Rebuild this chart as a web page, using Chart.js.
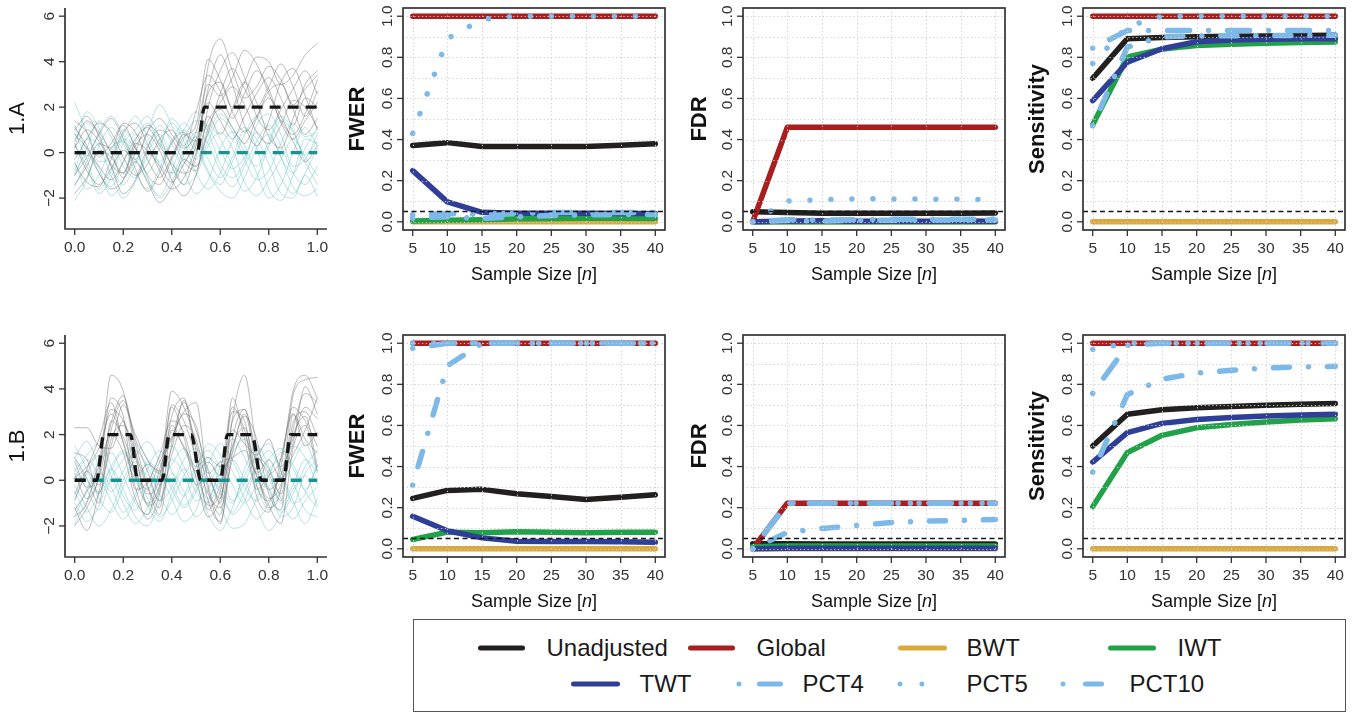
<!DOCTYPE html>
<html><head><meta charset="utf-8">
<script src="https://cdn.jsdelivr.net/npm/chart.js@4.4.1/dist/chart.umd.min.js"></script>
<style>
html,body{margin:0;padding:0;background:#fff;width:1356px;height:713px;overflow:hidden;font-family:"Liberation Sans",Arial,sans-serif;}
canvas{position:absolute;}
#legend{position:absolute;left:413px;top:619px;width:933px;height:93px;border:1.5px solid #555;box-sizing:border-box;}
#legend svg{position:absolute;left:-1.5px;top:-1.5px;}
.lt{position:absolute;font-size:24px;line-height:28px;color:#1a1a1a;white-space:nowrap;transform:translateY(-50%);}
</style></head><body>
<canvas id="c0"></canvas><canvas id="c1"></canvas><canvas id="c2"></canvas><canvas id="c3"></canvas>
<canvas id="c4"></canvas><canvas id="c5"></canvas><canvas id="c6"></canvas><canvas id="c7"></canvas>
<div id="legend"></div>
<script>
// ---------------- DATA ----------------
const N_VALUES = [5, 10, 15, 20, 25, 30, 35, 40];
const SERIES = ['Unadjusted', 'Global', 'BWT', 'IWT', 'TWT', 'PCT4', 'PCT5', 'PCT10'];
const N_TICKS = [5, 10, 15, 20, 25, 30, 35, 40];
const N_TICK_LABELS = ['5', '10', '15', '20', '25', '30', '35', '40'];
const P_TICKS = [0, 0.2, 0.4, 0.6, 0.8, 1.0];
const P_TICK_LABELS = ['0.0', '0.2', '0.4', '0.6', '0.8', '1.0'];
const GRID_N = [5, 10, 15, 20, 25, 30, 35, 40];
const GRID_P = [0, 0.1, 0.2, 0.3, 0.4, 0.5, 0.6, 0.7, 0.8, 0.9, 1.0];
const ALPHA = 0.05;
const T_TICKS = [0, 0.2, 0.4, 0.6, 0.8, 1.0];
const T_TICK_LABELS = ['0.0', '0.2', '0.4', '0.6', '0.8', '1.0'];
const Y_TICKS = [-2, 0, 2, 4, 6];
const Y_TICK_LABELS = ['\u22122', '0', '2', '4', '6'];

const FWER_1A = {
  Unadjusted: [0.371, 0.385, 0.366, 0.366, 0.366, 0.366, 0.372, 0.379],
  Global:     [1, 1, 1, 1, 1, 1, 1, 1],
  BWT:        [0, 0, 0, 0, 0, 0, 0, 0],
  IWT:        [0.004, 0.008, 0.010, 0.015, 0.016, 0.017, 0.017, 0.016],
  TWT:        [0.249, 0.097, 0.046, 0.042, 0.042, 0.041, 0.040, 0.040],
  PCT4:       [0.034, 0.040, 0.036, 0.041, 0.045, 0.045, 0.045, 0.045],
  PCT5:       [0.43, 0.89, 0.985, 1, 1, 1, 1, 1],
  PCT10:      [0.018, 0.025, 0.016, 0.024, 0.030, 0.034, 0.035, 0.036]
};
const FDR_1A = {
  Unadjusted: [0.049, 0.045, 0.041, 0.041, 0.041, 0.041, 0.042, 0.043],
  Global:     [0, 0.46, 0.46, 0.46, 0.46, 0.46, 0.46, 0.46],
  BWT:        [0, 0, 0, 0, 0, 0, 0, 0],
  IWT:        [0, 0, 0, 0, 0, 0, 0, 0],
  TWT:        [0, 0.004, 0.005, 0.003, 0.004, 0.003, 0.004, 0.003],
  PCT4:       [0, 0.010, 0.008, 0.010, 0.012, 0.012, 0.012, 0.013],
  PCT5:       [0, 0.101, 0.107, 0.112, 0.111, 0.110, 0.109, 0.108],
  PCT10:      [0, 0.006, 0.004, 0.007, 0.008, 0.008, 0.009, 0.009]
};
const SENS_1A = {
  Unadjusted: [0.698, 0.891, 0.897, 0.900, 0.902, 0.904, 0.906, 0.908],
  Global:     [1, 1, 1, 1, 1, 1, 1, 1],
  BWT:        [0, 0, 0, 0, 0, 0, 0, 0],
  IWT:        [0.472, 0.802, 0.840, 0.857, 0.864, 0.869, 0.872, 0.875],
  TWT:        [0.589, 0.776, 0.842, 0.876, 0.884, 0.888, 0.890, 0.891],
  PCT4:       [0.845, 0.930, 0.930, 0.930, 0.930, 0.930, 0.930, 0.930],
  PCT5:       [0.77, 0.95, 1, 1, 1, 1, 1, 1],
  PCT10:      [0.467, 0.85, 0.900, 0.904, 0.905, 0.906, 0.907, 0.908]
};
const FWER_1B = {
  Unadjusted: [0.245, 0.284, 0.289, 0.268, 0.254, 0.240, 0.251, 0.263],
  Global:     [1, 1, 1, 1, 1, 1, 1, 1],
  BWT:        [0, 0, 0, 0, 0, 0, 0, 0],
  IWT:        [0.045, 0.081, 0.078, 0.083, 0.080, 0.078, 0.080, 0.081],
  TWT:        [0.158, 0.088, 0.053, 0.037, 0.036, 0.036, 0.034, 0.032],
  PCT4:       [0.975, 1, 1, 1, 1, 1, 1, 1],
  PCT5:       [1, 1, 1, 1, 1, 1, 1, 1],
  PCT10:      [0.31, 0.89, 1, 1, 1, 1, 1, 1]
};
const FDR_1B = {
  Unadjusted: [0.025, 0.024, 0.023, 0.023, 0.023, 0.023, 0.023, 0.023],
  Global:     [0, 0.222, 0.222, 0.222, 0.222, 0.222, 0.222, 0.222],
  BWT:        [0, 0, 0, 0, 0, 0, 0, 0],
  IWT:        [0.010, 0.013, 0.013, 0.013, 0.013, 0.013, 0.013, 0.013],
  TWT:        [0, 0.002, 0.002, 0.002, 0.002, 0.002, 0.002, 0.002],
  PCT4:       [0, 0.220, 0.222, 0.222, 0.222, 0.222, 0.222, 0.222],
  PCT5:       [0, 0.222, 0.222, 0.222, 0.222, 0.222, 0.222, 0.222],
  PCT10:      [0, 0.080, 0.099, 0.113, 0.128, 0.135, 0.138, 0.142]
};
const SENS_1B = {
  Unadjusted: [0.500, 0.654, 0.676, 0.686, 0.692, 0.698, 0.703, 0.707],
  Global:     [1, 1, 1, 1, 1, 1, 1, 1],
  BWT:        [0, 0, 0, 0, 0, 0, 0, 0],
  IWT:        [0.205, 0.468, 0.552, 0.589, 0.605, 0.617, 0.626, 0.633],
  TWT:        [0.422, 0.565, 0.610, 0.629, 0.639, 0.646, 0.651, 0.654],
  PCT4:       [0.756, 0.99, 1, 1, 1, 1, 1, 1],
  PCT5:       [0.97, 1, 1, 1, 1, 1, 1, 1],
  PCT10:      [0.373, 0.750, 0.825, 0.855, 0.868, 0.880, 0.885, 0.888]
};

// functional data samples
const T_GRID = [0, 0.05, 0.1, 0.15, 0.2, 0.25, 0.3, 0.35, 0.4, 0.45, 0.5, 0.55, 0.6, 0.65, 0.7, 0.75, 0.8, 0.85, 0.9, 0.95, 1];
const GRAY_1A = [
  [0.8, 0.2, -0.6, -1.2, -0.4, 0.6, 1.1, 0.3, -0.5, -0.9, -0.2, 3.8, 5.0, 3.6, 2.4, 2.9, 3.8, 3.2, 2.1, 2.8, 3.4],
  [-0.5, -1.3, -1.5, -0.3, 0.9, 1.3, 0.4, -0.8, -1.6, -1.1, 0.3, 2.6, 3.1, 1.8, 0.9, 1.6, 2.7, 3.0, 1.9, 0.8, 1.5],
  [1.4, 0.9, -0.2, 0.4, 1.2, 0.2, -1.0, -1.4, -0.3, 0.7, 1.2, 4.1, 3.2, 2.0, 3.1, 4.2, 4.0, 3.0, 3.4, 4.3, 4.8],
  [-1.0, -0.2, 0.8, 1.5, 0.6, -0.7, -1.7, -0.9, 0.4, 0.9, 0.1, 1.4, 2.2, 2.9, 2.1, 0.9, 0.4, 1.2, 2.3, 2.0, 1.1],
  [0.2, 1.0, 0.5, -0.6, -1.8, -1.2, 0.2, 1.0, 0.6, -0.4, -0.8, 2.0, 3.6, 4.4, 3.3, 1.6, 1.0, 1.9, 2.8, 3.6, 2.6],
  [-1.8, -1.1, 0.1, -0.2, -0.9, 0.3, 0.8, 0.1, -1.2, -1.9, -1.0, 1.1, 1.9, 1.1, 0.4, 1.5, 2.4, 1.6, 0.5, -0.4, 0.3],
  [0.4, -0.8, -1.4, -0.7, 0.1, -0.3, 0.9, 1.5, 0.8, 0.2, 0.9, 3.0, 2.5, 3.3, 4.5, 3.9, 2.6, 1.4, 0.8, 1.7, 3.2],
  [1.0, 1.6, 0.7, -0.5, -0.9, 0.4, 0.1, -0.6, -1.3, -0.5, 0.6, 2.2, 1.4, 0.6, 1.6, 2.6, 3.3, 2.4, 1.2, 2.4, 2.0],
  [-0.3, 0.6, 1.3, 0.9, -0.2, -1.0, -0.5, 0.6, 1.0, 0.3, 1.8, 3.4, 2.7, 1.5, 2.6, 3.6, 2.8, 1.3, 0.6, 1.4, 2.2],
  [1.1, 0.3, -0.9, -1.6, -1.2, 0.0, 1.2, 0.7, -0.6, -1.4, 0.0, 1.6, 0.8, 1.9, 3.1, 2.2, 0.7, 0.2, 1.5, 3.0, 3.6],
  [-1.4, -0.6, 0.4, 0.2, 1.3, 0.9, -0.3, -1.1, -0.2, 0.8, 0.5, 2.8, 4.3, 3.0, 1.2, 0.3, 1.4, 3.1, 3.7, 2.5, 1.0],
  [0.5, 1.4, 0.9, 0.0, -1.1, -0.4, -1.3, -2.2, -1.5, -0.3, -0.6, 0.9, 2.6, 3.7, 2.8, 2.0, 2.9, 3.9, 2.9, 1.6, 2.7]
];
const CYAN_1A = [
  [2.2, 0.9, -0.4, -0.2, 0.8, 1.6, 0.7, -0.5, -0.9, 0.1, 0.9, 0.4, -0.8, -1.5, -0.6, 0.5, 1.2, 0.3, -0.9, -1.4, -0.6],
  [-2.1, -1.2, 0.3, 1.1, 0.4, -0.9, -1.6, -0.7, 0.5, 1.0, 0.2, -0.9, -1.7, -2.0, -1.1, 0.2, 0.8, -0.2, -1.5, -1.9, -1.6],
  [0.6, 1.3, 0.8, -0.6, -1.4, -0.5, 0.9, 2.1, 1.2, -0.2, -0.6, 0.5, 1.5, 0.9, -0.3, -1.2, -0.8, 0.4, 1.3, 0.7, 0.9],
  [-0.4, -1.6, -1.0, 0.2, 0.5, -0.3, -1.2, -1.9, -0.8, 0.6, 1.4, 1.1, 0.1, -0.7, -0.2, 0.9, 0.1, -1.1, -1.8, -0.9, 0.2],
  [1.2, 0.1, -0.9, -1.5, -0.4, 0.8, 0.3, -0.4, 0.5, 1.3, 0.5, -0.8, -1.4, -0.4, 0.8, 1.6, 1.0, -0.2, -0.9, 0.2, 1.1],
  [-1.0, 0.2, 1.4, 0.7, -0.6, -1.1, 0.0, 0.8, -0.3, -1.4, -1.0, 0.3, 0.9, 0.2, -1.3, -1.9, -1.2, -0.3, 0.6, -0.2, -1.0],
  [0.3, -0.6, -1.8, -1.1, 0.4, 1.0, 1.6, 0.6, -0.9, -0.5, 0.4, 1.2, 0.6, -0.6, -1.7, -1.1, 0.3, 1.4, 0.9, -0.4, -1.4],
  [-0.8, 0.6, 0.3, -1.0, -2.0, -1.3, -0.2, 0.4, 1.3, 0.5, -0.9, -1.6, -0.9, 0.5, 1.1, 0.2, -1.6, -2.1, -1.0, 0.6, 0.4],
  [0.9, -0.3, -1.6, -0.8, 0.6, 0.2, -0.9, 0.2, 1.5, 0.8, -0.3, 0.8, 1.7, 1.1, 0.0, -0.6, 0.5, 1.6, 1.0, -0.1, 0.5],
  [-1.5, -0.4, 0.9, 1.6, 0.8, -0.4, 0.3, 1.2, 0.4, -0.8, -1.8, -1.2, 0.2, 0.9, 0.3, -0.9, -2.0, -1.4, 0.0, 1.1, 0.3],
  [0.2, 1.8, 1.1, 0.1, 1.0, 0.3, -1.1, -2.0, -1.3, -0.1, 0.7, -0.3, -1.1, -0.2, 1.0, 0.6, -0.5, -1.8, -2.0, -1.0, -1.9],
  [-0.9, -0.1, -0.7, -1.9, -1.2, 0.5, 1.3, 0.4, 0.0, 1.0, 1.8, 0.9, -0.5, -1.1, -0.4, 1.2, 1.7, 0.8, -0.6, -0.3, 0.8]
];
const GRAY_1B = [
  [-1.6, -1.0, 0.9, 3.1, 2.6, 1.0, -0.6, 0.1, 3.9, 3.2, 1.6, -0.9, -1.8, 1.2, 2.9, 0.6, -1.2, -0.4, 3.7, 4.4, 4.5],
  [0.8, -0.3, 0.4, 4.6, 3.9, 1.3, -0.3, -1.5, 1.6, 3.4, 2.2, 0.4, -0.8, 2.6, 3.1, 1.2, 0.3, -0.9, 2.5, 3.0, 1.9],
  [2.3, 2.3, 1.5, 1.4, 2.6, 0.2, -1.0, -0.2, 2.8, 3.6, 0.8, -1.1, -0.5, 3.0, 2.6, -0.2, -0.9, 0.6, 3.9, 4.6, 3.6],
  [-1.2, -2.2, -0.5, 2.2, 3.5, 1.8, 0.4, -0.9, 1.1, 2.4, 1.8, -0.4, -1.9, 1.8, 3.1, 0.9, -0.4, 0.2, 2.0, 2.8, 0.6],
  [0.1, 0.6, 1.4, 2.9, 1.7, -0.3, -1.7, -0.6, 2.4, 1.4, 0.4, 0.8, 0.2, 2.2, 1.6, 1.1, 1.8, 0.6, 1.8, 3.2, 2.7],
  [-0.6, 0.4, -0.2, 1.5, 3.3, 2.0, 0.9, 0.3, 3.3, 2.6, 1.0, -0.6, -1.2, 0.9, 2.0, -0.7, -1.4, 1.0, 2.9, 1.8, 1.2],
  [1.0, 0.1, -1.0, 2.6, 1.9, 0.4, -0.4, 0.8, 1.9, 3.0, 3.4, -0.2, -1.5, 2.7, 4.6, 1.5, 0.5, -0.6, 2.2, 3.8, 3.4],
  [-2.0, -1.2, 0.2, 3.6, 2.8, -0.4, -0.1, 1.1, 2.6, 2.1, 0.1, -1.6, -0.8, 1.5, 2.3, 0.2, -1.1, -1.9, 1.4, 2.4, 0.4],
  [0.3, -0.8, 0.1, 2.5, 3.7, 1.6, -0.2, -1.2, 2.2, 1.5, 0.6, 1.0, 0.6, 3.2, 2.2, 0.3, 0.9, 0.1, 1.1, 2.2, 3.6],
  [-0.9, 0.5, 1.8, 3.4, 1.6, 0.1, 0.7, 0.4, 1.4, 3.5, 1.3, -1.3, -0.2, 1.4, 2.8, 1.8, -0.6, -1.3, 2.9, 1.5, 2.1],
  [1.2, 0.9, -0.6, 1.8, 2.4, 1.2, -1.1, -0.4, 3.2, 1.9, -0.2, 0.1, -1.0, 3.6, 1.8, -0.4, 0.2, 0.9, 3.2, 2.6, 1.5],
  [-1.3, -0.5, 0.6, 2.0, 1.2, -0.8, -1.5, 0.5, 1.8, 2.9, 2.4, 0.3, 0.8, 1.0, 1.3, 0.2, -0.8, -0.2, 1.6, 4.1, 2.9]
];
const CYAN_1B = [
  [1.5, 0.5, -0.8, -1.4, -0.3, 1.0, 1.7, 0.8, -0.4, -1.2, -0.5, 0.7, 1.6, 0.9, -0.3, -0.9, 0.2, 1.2, 0.7, -0.5, -1.2],
  [-1.0, -1.8, -1.1, 0.4, 1.2, 0.3, -0.8, -1.6, -0.9, 0.2, 0.9, 0.1, -1.1, -2.1, -1.9, -0.8, 0.4, 0.9, -0.1, -1.3, -1.6],
  [0.4, 1.1, 1.6, 0.6, -0.7, -1.3, -0.2, 1.0, 1.5, 0.6, -0.5, -1.0, 0.1, 1.2, 1.8, 0.8, -0.4, -1.4, -0.6, 0.6, 1.3],
  [-0.2, -1.2, -2.0, -1.3, 0.0, 0.8, 0.1, -0.9, -0.3, 0.9, 1.4, 0.5, -0.6, -1.4, -0.5, 0.6, 1.3, 0.4, -0.9, -1.9, -0.8],
  [0.9, 0.0, -0.5, 0.6, 1.3, 0.2, -1.1, -1.8, -0.6, 0.5, -0.2, -1.5, -2.2, -1.2, 0.2, 1.0, 0.1, -1.0, -0.2, 0.9, 0.3],
  [-1.6, -0.4, 0.8, 1.2, 0.2, -1.0, -1.5, -0.3, 0.9, 0.3, -0.9, -0.4, 0.8, 0.4, -0.8, -1.7, -1.0, 0.3, 1.5, 1.0, -0.2],
  [0.1, 0.9, 0.2, -0.9, -1.7, -0.8, 0.5, 1.3, 0.4, -0.7, 0.3, 1.6, 1.1, -0.2, -1.0, -0.2, 0.9, 1.4, 0.5, -0.4, 0.6],
  [-0.5, -1.4, -0.6, 0.5, -0.4, -1.6, -2.0, -1.0, 0.3, -0.5, -1.6, -0.9, 0.3, 0.9, 0.0, -1.2, -2.2, -1.5, -0.4, 0.2, -1.1],
  [1.0, 1.7, 0.6, -0.5, 0.4, 1.3, 0.6, -0.6, -1.5, -0.7, 0.6, 1.3, 0.5, -0.9, -0.1, 1.1, 1.6, 0.4, -1.0, -0.6, 0.7],
  [-1.9, -0.9, 0.3, -0.3, -1.4, -0.6, 0.8, 0.3, -0.8, -1.8, -1.3, 0.1, -0.4, -1.5, -0.9, 0.4, -0.3, -1.6, -1.2, 0.3, 0.9],
  [0.5, -0.4, -1.3, 0.1, 0.9, 1.6, 0.9, -0.2, 0.7, 1.4, 0.2, -0.8, 0.6, 1.8, 1.0, -0.3, -1.3, -0.4, 0.8, 1.6, 0.4],
  [-0.8, 0.3, 1.1, 0.2, -1.0, -1.9, -1.2, 0.2, -0.2, -1.1, -0.3, 1.0, -0.2, -1.0, 0.5, 1.5, 0.6, -0.8, -1.7, -0.9, -0.3]
];
const MEAN_1A_T = [0, 0.505, 0.535, 1];
const MEAN_1A_Y = [0, 0, 2, 2];
const MEAN_1B_T = [0, 0.09, 0.12, 0.23, 0.26, 0.36, 0.39, 0.48, 0.52, 0.60, 0.63, 0.73, 0.77, 0.86, 0.89, 1.0];
const MEAN_1B_Y = [0, 0, 2, 2, 0, 0, 2, 2, 0, 0, 2, 2, 0, 0, 2, 2];
const NULL_MEAN_T = [0, 1];
const NULL_MEAN_Y = [0, 0];

// ---------------- STYLES ----------------
const COLORS = { Unadjusted: '#221f1f', Global: '#a81d1e', BWT: '#dba93b', IWT: '#21a249', TWT: '#2f3f97', PCT4: '#7db9e8', PCT5: '#7db9e8', PCT10: '#7db9e8' };
const DASHES = { Unadjusted: [], Global: [], BWT: [], IWT: [], TWT: [], PCT4: [0.001, 19, 22, 19], PCT5: [0.001, 21], PCT10: [0.001, 19, 16, 19] };
const FONT = '"Liberation Sans", Arial, Helvetica, sans-serif';

// ---------------- PLUGIN ----------------
function seg(ctx, x0, y0, x1, y1) { ctx.beginPath(); ctx.moveTo(x0, y0); ctx.lineTo(x1, y1); ctx.stroke(); }
const decoPlugin = {
  id: 'deco',
  afterDraw(chart) {
    const o = chart.options.plugins.deco;
    const ctx = chart.ctx, a = chart.chartArea, xs = chart.scales.x, ys = chart.scales.y;
    ctx.save();
    if (o.gridX) {
      ctx.strokeStyle = '#cdcdcd'; ctx.lineWidth = 1; ctx.setLineDash([1.2, 2.6]);
      o.gridX.forEach(v => { const p = Math.round(xs.getPixelForValue(v)) + 0.5; seg(ctx, p, a.top, p, a.bottom); });
      o.gridY.forEach(v => { const p = Math.round(ys.getPixelForValue(v)) + 0.5; seg(ctx, a.left, p, a.right, p); });
    }
    if (o.alpha != null) {
      ctx.strokeStyle = '#151515'; ctx.lineWidth = 1.3; ctx.setLineDash([5, 3.5]);
      const p = ys.getPixelForValue(o.alpha); seg(ctx, a.left, p, a.right, p);
    }
    ctx.setLineDash([]);
    ctx.strokeStyle = '#333'; ctx.lineWidth = 1.7;
    if (o.box) ctx.strokeRect(a.left, a.top, a.right - a.left, a.bottom - a.top);
    else { ctx.beginPath(); ctx.moveTo(a.left, a.top); ctx.lineTo(a.left, a.bottom); ctx.lineTo(a.right, a.bottom); ctx.stroke(); }
    ctx.lineWidth = 1.3;
    o.xTicks.forEach(v => { const p = xs.getPixelForValue(v); seg(ctx, p, a.bottom, p, a.bottom + 6); });
    o.yTicks.forEach(v => { const p = ys.getPixelForValue(v); seg(ctx, a.left - 6, p, a.left, p); });
    ctx.fillStyle = '#333'; ctx.font = '15.5px ' + FONT; ctx.textAlign = 'center'; ctx.textBaseline = 'middle';
    o.xTicks.forEach((v, i) => ctx.fillText(o.xLabels[i], xs.getPixelForValue(v), a.bottom + 19));
    o.yTicks.forEach((v, i) => { ctx.save(); ctx.translate(a.left - 15.5, ys.getPixelForValue(v)); ctx.rotate(-Math.PI / 2); ctx.fillText(o.yLabels[i], 0, 0); ctx.restore(); });
    ctx.fillStyle = '#111';
    if (o.yTitle) {
      ctx.save(); ctx.translate(a.left - o.yTitle.offset, (a.top + a.bottom) / 2); ctx.rotate(-Math.PI / 2);
      ctx.font = (o.yTitle.bold ? 'bold ' : '') + o.yTitle.size + 'px ' + FONT; ctx.fillText(o.yTitle.text, 0, 0); ctx.restore();
    }
    if (o.xTitle) {
      const parts = o.xTitle; let w = 0;
      parts.forEach(p => { ctx.font = (p[1] ? 'italic ' : '') + '18px ' + FONT; w += ctx.measureText(p[0]).width; });
      let x = (a.left + a.right) / 2 - w / 2; ctx.textAlign = 'left';
      parts.forEach(p => { ctx.font = (p[1] ? 'italic ' : '') + '18px ' + FONT; ctx.fillText(p[0], x, a.bottom + 45); x += ctx.measureText(p[0]).width; });
    }
    ctx.restore();
  }
};

function makeChart(id, canvasRect, box, datasets, xr, yr, deco) {
  const cv = document.getElementById(id);
  cv.width = canvasRect[2]; cv.height = canvasRect[3];
  cv.style.left = canvasRect[0] + 'px'; cv.style.top = canvasRect[1] + 'px';
  cv.style.width = canvasRect[2] + 'px'; cv.style.height = canvasRect[3] + 'px';
  new Chart(cv, {
    type: 'line',
    data: { datasets },
    options: {
      responsive: false, animation: false, devicePixelRatio: 1,
      layout: { padding: { left: box[0] - canvasRect[0], top: box[1] - canvasRect[1], right: canvasRect[0] + canvasRect[2] - box[2], bottom: canvasRect[1] + canvasRect[3] - box[3] } },
      scales: {
        x: { type: 'linear', display: false, min: xr[0], max: xr[1] },
        y: { type: 'linear', display: false, min: yr[0], max: yr[1] }
      },
      elements: { point: { radius: 0, hoverRadius: 0 }, line: { borderCapStyle: 'round', borderJoinStyle: 'round' } },
      plugins: { legend: { display: false }, tooltip: { enabled: false }, deco }
    },
    plugins: [decoPlugin]
  });
}

function metricDatasets(table) {
  // first dataset is drawn on top in Chart.js, so reverse series order
  return SERIES.slice().reverse().map(name => ({
    label: name,
    data: N_VALUES.map((n, i) => ({ x: n, y: table[name][i] })),
    borderColor: COLORS[name], borderWidth: 5.5, borderDash: DASHES[name],
    borderCapStyle: 'round', tension: 0, fill: false
  }));
}
function funcDatasets(gray, cyan, meanT, meanY) {
  const ds = [];
  ds.push({ data: meanT.map((t, i) => ({ x: t, y: meanY[i] })), borderColor: '#161616', borderWidth: 3.4, borderDash: [11, 7], borderCapStyle: 'butt', cubicInterpolationMode: 'monotone' });
  ds.push({ data: NULL_MEAN_T.map((t, i) => ({ x: t, y: NULL_MEAN_Y[i] })), borderColor: '#1b9191', borderWidth: 3.4, borderDash: [11, 7], borderCapStyle: 'butt' });
  gray.forEach(c => ds.push({ data: T_GRID.map((t, i) => ({ x: t, y: c[i] })), borderColor: 'rgba(105,105,105,0.45)', borderWidth: 1, cubicInterpolationMode: 'monotone' }));
  cyan.forEach(c => ds.push({ data: T_GRID.map((t, i) => ({ x: t, y: c[i] })), borderColor: 'rgba(95,190,195,0.45)', borderWidth: 1, cubicInterpolationMode: 'monotone' }));
  return ds;
}

const N_RANGE = [3.6, 41.4], P_RANGE = [-0.04, 1.04], T_RANGE = [-0.04, 1.04], Y_RANGE = [-3.36, 6.36];
const X_TITLE = [['Sample Size [', false], ['n', true], [']', false]];
function metricDeco(title, offset) {
  return { box: true, gridX: GRID_N, gridY: GRID_P, alpha: ALPHA, xTicks: N_TICKS, xLabels: N_TICK_LABELS, yTicks: P_TICKS, yLabels: P_TICK_LABELS,
    yTitle: { text: title, bold: true, size: 22, offset }, xTitle: X_TITLE };
}
function funcDeco(title) {
  return { box: false, xTicks: T_TICKS, xLabels: T_TICK_LABELS, yTicks: Y_TICKS, yLabels: Y_TICK_LABELS, yTitle: { text: title, bold: false, size: 22, offset: 47 } };
}

// row 1
makeChart('c0', [0, 0, 340, 300], [65, 8, 327, 229], funcDatasets(GRAY_1A, CYAN_1A, MEAN_1A_T, MEAN_1A_Y), T_RANGE, Y_RANGE, funcDeco('1.A'));
makeChart('c1', [340, 0, 340, 300], [403, 8, 665, 230], metricDatasets(FWER_1A), N_RANGE, P_RANGE, metricDeco('FWER', 45));
makeChart('c2', [680, 0, 340, 300], [743, 8, 1005, 230], metricDatasets(FDR_1A), N_RANGE, P_RANGE, metricDeco('FDR', 43));
makeChart('c3', [1020, 0, 336, 300], [1083, 8, 1345, 230], metricDatasets(SENS_1A), N_RANGE, P_RANGE, metricDeco('Sensitivity', 45));
// row 2
makeChart('c4', [0, 310, 340, 305], [65, 335, 327, 557], funcDatasets(GRAY_1B, CYAN_1B, MEAN_1B_T, MEAN_1B_Y), T_RANGE, Y_RANGE, funcDeco('1.B'));
makeChart('c5', [340, 310, 340, 305], [403, 335, 665, 557], metricDatasets(FWER_1B), N_RANGE, P_RANGE, metricDeco('FWER', 45));
makeChart('c6', [680, 310, 340, 305], [743, 335, 1005, 557], metricDatasets(FDR_1B), N_RANGE, P_RANGE, metricDeco('FDR', 43));
makeChart('c7', [1020, 310, 336, 305], [1083, 335, 1345, 557], metricDatasets(SENS_1B), N_RANGE, P_RANGE, metricDeco('Sensitivity', 45));

// ---------------- LEGEND ----------------
// [sample start x, sample end x, text x, centre y] in page pixels
const LEGEND_LAYOUT = {
  Unadjusted: [480.5, 522.5, 547, 648], Global: [690.5, 732.5, 757, 648], BWT: [900.5, 944.5, 967, 648], IWT: [1110.5, 1153.5, 1178, 648],
  TWT: [573.5, 617.5, 640, 684], PCT4: [739, 780.5, 803, 684], PCT5: [900, 923, 967, 684], PCT10: [1063, 1101.5, 1130, 684]
};
const LEGEND_DASH = { PCT4: '0.001 20.5 21 100', PCT5: '0.001 21.9 0.001 100', PCT10: '0.001 22.5 16 100' };
(function buildLegend() {
  const lg = document.getElementById('legend');
  const L = 413, T = 619;
  let svg = '<svg width="933" height="93" xmlns="http://www.w3.org/2000/svg">';
  let html = '';
  SERIES.forEach(name => {
    const p = LEGEND_LAYOUT[name];
    const dash = LEGEND_DASH[name] ? ` stroke-dasharray="${LEGEND_DASH[name]}"` : '';
    svg += `<line x1="${p[0] - L}" y1="${p[3] - T}" x2="${p[1] - L}" y2="${p[3] - T}" stroke="${COLORS[name]}" stroke-width="5" stroke-linecap="round"${dash}/>`;
    html += `<div class="lt" style="left:${p[2] - L - 1.5}px;top:${p[3] - T - 1.5}px">${name}</div>`;
  });
  svg += '</svg>';
  lg.innerHTML = svg + html;
})();
</script>
</body></html>
